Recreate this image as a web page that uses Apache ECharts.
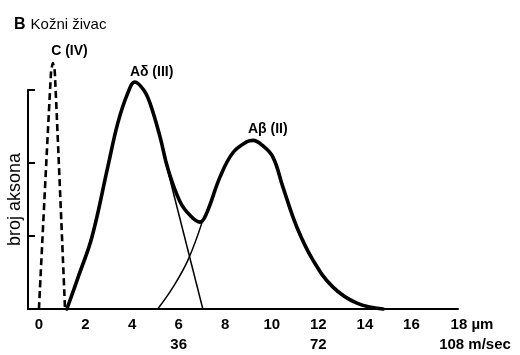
<!DOCTYPE html>
<html>
<head>
<meta charset="utf-8">
<script src="https://cdn.jsdelivr.net/npm/echarts@6/dist/echarts.min.js"></script>
<style>html,body{margin:0;padding:0;background:#fff}#c{width:520px;height:355px}</style>
</head>
<body>
<div id="c"></div>
<script>
// Diameter (µm) tick labels
const diameterTicks = [0, 2, 4, 6, 8, 10, 12, 14, 16, 18];
// Conduction velocity labels placed under diameter values
const speedTickPos = [6, 12, 18];
const speedLabels = ['36', '72', '108 m/sec'];
// y-axis ticks (arbitrary units of axon count)
const yTicks = [0, 1, 2, 3];

// Total distribution (thick line): [diameter µm, count]
const totalX = [1.2, 1.7, 2.28, 2.96, 3.39, 3.82, 4.12, 4.5, 4.77, 5.2, 5.54, 6.06, 6.5, 6.92, 7.2, 7.78, 8.33, 8.93, 9.2, 9.6, 10.05, 10.48, 11.08, 11.77, 12.63, 13.66, 14.78];
const totalY = [0, 0.45, 0.99, 1.95, 2.55, 2.96, 3.11, 3.0, 2.82, 2.36, 1.92, 1.47, 1.28, 1.19, 1.31, 1.81, 2.14, 2.29, 2.31, 2.24, 2.08, 1.67, 1.12, 0.67, 0.30, 0.08, 0];
// C fibres (dashed)
const cX = [0, 0.52, 0.6, 0.68, 1.12];
const cY = [0, 3.25, 3.37, 3.25, 0];
// A-delta component tail (thin)
const adX = [5.45, 7.04];
const adY = [2.0, 0];
// A-beta component start (thin)
const abX = [5.1, 5.76, 6.4, 7.0];
const abY = [0, 0.30, 0.67, 1.18];

// Curve labels
const annNames = ['C (IV)', 'A\u03b4 (III)', 'A\u03b2 (II)'];
const annX = [1.31, 4.84, 9.83];
const annY = [3.53, 3.25, 2.47];

const zip = (xs, ys) => xs.map((x, i) => [x, ys[i]]);
const FONT = 'Liberation Sans';

const chart = echarts.init(document.getElementById('c'), null, {renderer: 'canvas'});
chart.setOption({
  animation: false,
  backgroundColor: '#fff',
  title: {
    text: '{b|B} {t|Kožni živac}',
    left: 9, top: 11,
    textStyle: {
      rich: {
        b: {fontFamily: FONT, fontWeight: 'bold', fontSize: 16, color: '#000'},
        t: {fontFamily: FONT, fontWeight: 'normal', fontSize: 15, color: '#000'}
      }
    }
  },
  grid: {left: 28, right: 62, top: 90, bottom: 46, containLabel: false, outerBoundsMode: 'none'},
  xAxis: [{
    type: 'value', min: -0.47, max: 18,
    splitLine: {show: false},
    axisTick: {show: false},
    axisLine: {show: true, onZero: false, lineStyle: {color: '#000', width: 2}},
    axisLabel: {
      customValues: diameterTicks,
      margin: 8,
      color: '#000', fontFamily: FONT, fontWeight: 'bold', fontSize: 15,
      formatter: v => v === 18 ? '{r|18 \u00b5m}' : String(v),
      rich: {r: {padding: [0, 0, 0, 28], color: '#000', fontFamily: FONT, fontWeight: 'bold', fontSize: 15}}
    }
  }, {
    type: 'value', min: -0.47, max: 18, position: 'bottom', offset: 20,
    splitLine: {show: false},
    axisTick: {show: false},
    axisLine: {show: false},
    axisLabel: {
      customValues: speedTickPos,
      margin: 8,
      color: '#000', fontFamily: FONT, fontWeight: 'bold', fontSize: 15,
      formatter: v => {
        const i = speedTickPos.indexOf(v);
        const s = i >= 0 ? speedLabels[i] : '';
        return v === 18 ? '{r|' + s + '}' : s;
      },
      rich: {r: {padding: [0, 0, 0, 34], color: '#000', fontFamily: FONT, fontWeight: 'bold', fontSize: 15}}
    }
  }],
  yAxis: {
    type: 'value', min: yTicks[0], max: yTicks[yTicks.length - 1], interval: 1,
    name: 'broj aksona', nameLocation: 'middle', nameGap: 4, nameRotate: 90,
    nameTextStyle: {color: '#000', fontFamily: FONT, fontSize: 18},
    splitLine: {show: false},
    axisLabel: {show: false},
    axisLine: {show: true, onZero: false, lineStyle: {color: '#000', width: 2}},
    axisTick: {show: true, inside: true, length: 7, lineStyle: {color: '#000', width: 2}}
  },
  series: [
    {type: 'line', xAxisIndex: 0, data: zip(cX, cY), showSymbol: false, symbol: 'none', clip: false, smooth: 0.2,
     lineStyle: {color: '#000', width: 2.6, type: [7, 4]}},
    {type: 'line', xAxisIndex: 0, data: zip(adX, adY), showSymbol: false, symbol: 'none', clip: false,
     lineStyle: {color: '#000', width: 1.5}},
    {type: 'line', xAxisIndex: 0, data: zip(abX, abY), showSymbol: false, symbol: 'none', clip: false, smooth: 0.4,
     lineStyle: {color: '#000', width: 1.5}},
    {type: 'line', xAxisIndex: 0, data: zip(totalX, totalY), showSymbol: false, symbol: 'none', clip: false, smooth: 0.4,
     lineStyle: {color: '#000', width: 3.6, cap: 'round', join: 'round'}},
    {type: 'scatter', xAxisIndex: 0, symbolSize: 0, clip: false, silent: true,
     itemStyle: {opacity: 1, color: '#000'},
     data: annNames.map((n, i) => ({name: n, value: [annX[i], annY[i]]})),
     label: {show: true, position: 'inside', formatter: p => p.name,
             color: '#000', fontFamily: FONT, fontWeight: 'bold', fontSize: 14}}
  ]
});
</script>
</body>
</html>
